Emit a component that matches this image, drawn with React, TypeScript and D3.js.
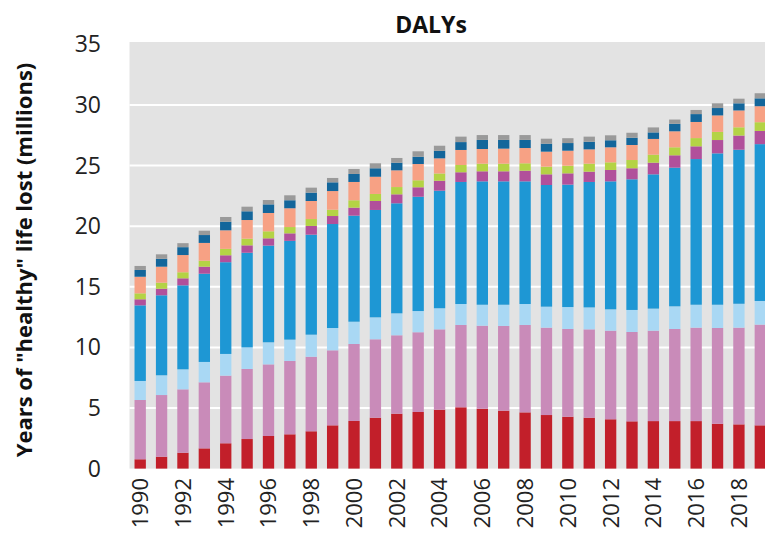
import * as d3 from "d3";

const years = [
  1990, 1991, 1992, 1993, 1994, 1995, 1996, 1997, 1998, 1999,
  2000, 2001, 2002, 2003, 2004, 2005, 2006, 2007, 2008, 2009,
  2010, 2011, 2012, 2013, 2014, 2015, 2016, 2017, 2018, 2019,
];

// stacked segments, bottom to top (millions of DALYs)
const red = [0.77, 0.98, 1.31, 1.67, 2.09, 2.44, 2.69, 2.83, 3.08, 3.57, 3.93, 4.2, 4.53, 4.67, 4.86, 5.06, 4.94, 4.78, 4.64, 4.42, 4.28, 4.2, 4.07, 3.9, 3.92, 3.92, 3.92, 3.7, 3.65, 3.57];
const mauve = [4.89, 5.09, 5.23, 5.45, 5.58, 5.78, 5.91, 6.05, 6.15, 6.19, 6.35, 6.47, 6.47, 6.58, 6.63, 6.79, 6.85, 6.99, 7.21, 7.21, 7.24, 7.29, 7.31, 7.37, 7.46, 7.6, 7.71, 7.9, 7.98, 8.31];
const lightBlue = [1.57, 1.63, 1.65, 1.68, 1.79, 1.78, 1.82, 1.76, 1.82, 1.84, 1.84, 1.81, 1.81, 1.75, 1.74, 1.73, 1.73, 1.75, 1.73, 1.73, 1.81, 1.81, 1.76, 1.82, 1.82, 1.87, 1.89, 1.92, 1.97, 1.95];
const blue = [6.24, 6.6, 6.93, 7.28, 7.57, 7.81, 7.98, 8.15, 8.25, 8.58, 8.75, 8.86, 9.08, 9.43, 9.7, 10.07, 10.18, 10.18, 10.12, 10.04, 10.1, 10.35, 10.56, 10.78, 11.08, 11.44, 12.02, 12.49, 12.71, 12.94];
const magenta = [0.5, 0.54, 0.58, 0.58, 0.57, 0.61, 0.6, 0.62, 0.72, 0.66, 0.66, 0.74, 0.74, 0.78, 0.82, 0.8, 0.83, 0.83, 0.88, 0.88, 0.93, 0.85, 0.94, 0.91, 0.96, 1.02, 1.05, 1.1, 1.17, 1.09];
const green = [0.49, 0.5, 0.5, 0.49, 0.53, 0.55, 0.58, 0.52, 0.57, 0.52, 0.61, 0.58, 0.6, 0.58, 0.6, 0.6, 0.63, 0.63, 0.61, 0.63, 0.63, 0.66, 0.63, 0.68, 0.66, 0.66, 0.68, 0.67, 0.68, 0.72];
const salmon = [1.37, 1.32, 1.42, 1.47, 1.53, 1.54, 1.51, 1.55, 1.49, 1.54, 1.51, 1.42, 1.38, 1.34, 1.25, 1.24, 1.21, 1.24, 1.26, 1.24, 1.24, 1.18, 1.24, 1.24, 1.3, 1.32, 1.33, 1.36, 1.39, 1.32];
const darkBlue = [0.56, 0.65, 0.65, 0.65, 0.71, 0.72, 0.71, 0.66, 0.69, 0.72, 0.66, 0.7, 0.63, 0.6, 0.62, 0.65, 0.75, 0.72, 0.67, 0.66, 0.63, 0.63, 0.58, 0.6, 0.54, 0.62, 0.65, 0.61, 0.59, 0.65];
const grey = [0.33, 0.37, 0.33, 0.36, 0.39, 0.38, 0.36, 0.41, 0.41, 0.36, 0.41, 0.41, 0.39, 0.45, 0.42, 0.45, 0.4, 0.4, 0.4, 0.41, 0.4, 0.42, 0.41, 0.41, 0.41, 0.35, 0.34, 0.39, 0.38, 0.42];

const yTicks = [0, 5, 10, 15, 20, 25, 30, 35];
const xTickYears = [1990, 1992, 1994, 1996, 1998, 2000, 2002, 2004, 2006, 2008, 2010, 2012, 2014, 2016, 2018];

const series = [
  { key: "red", values: red, color: "#c21f2a" },
  { key: "mauve", values: mauve, color: "#c98bb9" },
  { key: "lightBlue", values: lightBlue, color: "#a9d8f4" },
  { key: "blue", values: blue, color: "#1e97d4" },
  { key: "magenta", values: magenta, color: "#b1509b" },
  { key: "green", values: green, color: "#b4d345" },
  { key: "salmon", values: salmon, color: "#f7a184" },
  { key: "darkBlue", values: darkBlue, color: "#13669b" },
  { key: "grey", values: grey, color: "#9a9a9a" },
];

const W = 765;
const H = 538;
const plot = { left: 129.5, right: 771, top: 42, bottom: 468.6 };

export default function App() {
  const rows = years.map((y, i) => {
    const r: Record<string, number> = { year: y };
    series.forEach((s) => (r[s.key] = s.values[i]));
    return r;
  });
  const stacked = d3.stack<Record<string, number>>().keys(series.map((s) => s.key))(rows);

  const x = d3
    .scaleBand<number>()
    .domain(years)
    .range([plot.left, plot.right])
    .paddingInner(0.47)
    .paddingOuter(0.235);
  const y = d3.scaleLinear().domain([0, 35]).range([plot.bottom, 44.4]);

  const font = "'Open Sans', sans-serif";

  return (
    <svg
      width={W}
      height={H}
      style={{ position: "absolute", left: 0, top: 0, background: "#fff" }}
    >
      <rect
        x={plot.left}
        y={plot.top}
        width={plot.right - plot.left}
        height={plot.bottom - plot.top}
        fill="#e3e3e3"
      />
      {yTicks
        .filter((t) => t > 0 && t < 35)
        .map((t) => (
          <line
            key={t}
            x1={plot.left}
            x2={plot.right}
            y1={y(t)}
            y2={y(t)}
            stroke="#fff"
            strokeWidth={2}
          />
        ))}
      {stacked.map((layer, li) => (
        <g key={layer.key} fill={series[li].color}>
          {layer.map((d, i) => (
            <rect
              key={years[i]}
              x={x(years[i])}
              y={y(d[1])}
              width={x.bandwidth()}
              height={y(d[0]) - y(d[1])}
            />
          ))}
        </g>
      ))}
      {yTicks.map((t) => (
        <text
          key={t}
          x={101}
          y={y(t)}
          dy="0.35em"
          textAnchor="end"
          fontFamily={font}
          fontSize={23}
          fill="#222"
        >
          {t}
        </text>
      ))}
      {xTickYears.map((yr) => (
        <text
          key={yr}
          transform={`translate(${x(yr)! + x.bandwidth() / 2},${478}) rotate(-90)`}
          dy="0.36em"
          textAnchor="end"
          fontFamily={font}
          fontSize={22}
          fill="#222"
        >
          {yr}
        </text>
      ))}
      <text
        x={431}
        y={33}
        textAnchor="middle"
        fontFamily={font}
        fontWeight="bold"
        fontSize={23}
        fill="#111"
      >
        DALYs
      </text>
      <text
        transform={`translate(24,260) rotate(-90)`}
        dy="0.35em"
        textAnchor="middle"
        fontFamily={font}
        fontWeight="bold"
        fontSize={22}
        fill="#111"
      >
        Years of "healthy" life lost (millions)
      </text>
    </svg>
  );
}
